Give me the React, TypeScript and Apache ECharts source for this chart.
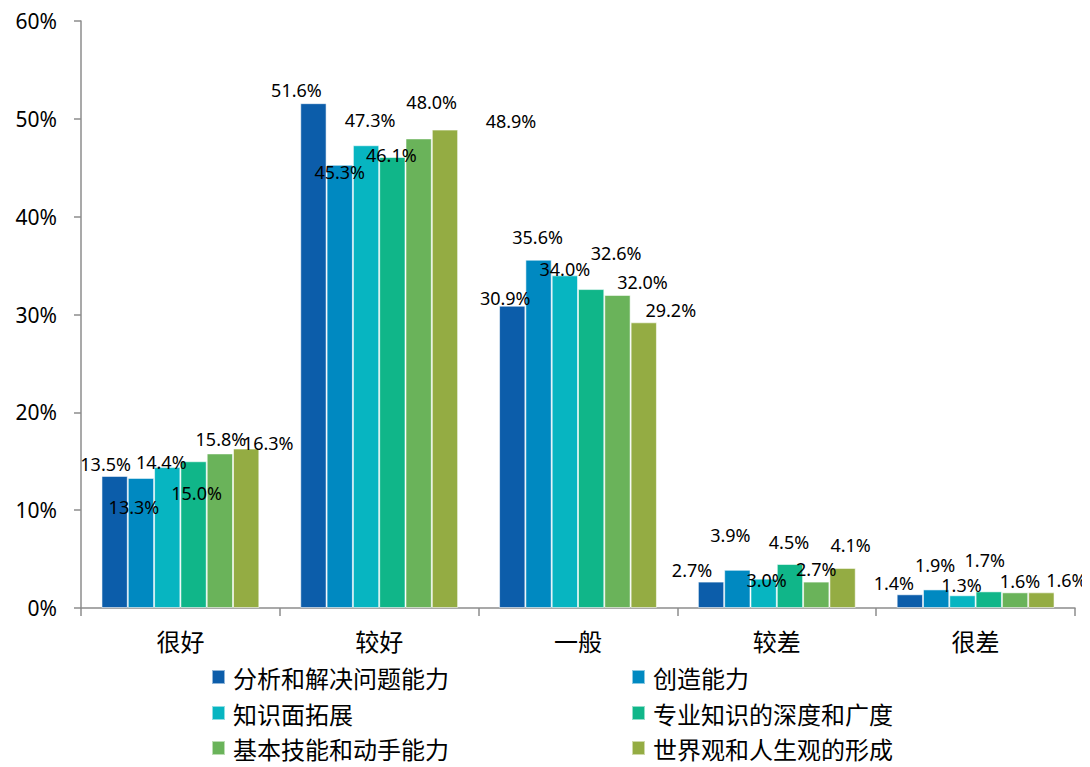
import React, { useEffect, useRef } from "react";
import * as echarts from "echarts";

const categories = ["很好", "较好", "一般", "较差", "很差"];
const seriesNames = [
  "分析和解决问题能力",
  "创造能力",
  "知识面拓展",
  "专业知识的深度和广度",
  "基本技能和动手能力",
  "世界观和人生观的形成",
];
const analysis = [13.5, 51.6, 30.9, 2.7, 1.4];
const creativity = [13.3, 45.3, 35.6, 3.9, 1.9];
const knowledgeBreadth = [14.4, 47.3, 34.0, 3.0, 1.3];
const professionalDepth = [15.0, 46.1, 32.6, 4.5, 1.7];
const basicSkills = [15.8, 48.0, 32.0, 2.7, 1.6];
const worldview = [16.3, 48.9, 29.2, 4.1, 1.6];
const yTicks = [0, 10, 20, 30, 40, 50, 60];

const seriesValues = [analysis, creativity, knowledgeBreadth, professionalDepth, basicSkills, worldview];
const colors = ["#0C5DAA", "#0089C1", "#07B5C1", "#10B689", "#6AB35A", "#94AC43"];

// label offsets [dx, dy] relative to default 'top' placement, per series per category
const labelOffsets = [
  [[-9, 2], [-17, 1], [-7, 6], [-19, 2], [-16, 3]],
  [[-7, 43], [0, 21], [-1, -9], [-7, -21], [-1, -10]],
  [[-6, 9], [4, -11], [0, 8], [3, 15], [-1, 4]],
  [[3, 46], [-1, 12], [25, -22], [-1, -8], [-4, -17]],
  [[1, 0], [13, -22], [25, 1], [0, 1], [5, 3]],
  [[22, 8], [66, 5], [27, 2], [8, -9], [25, 2]],
];

// legend slots: [left, top] in the chart div
const legendSlots = [
  [203, 656],
  [623, 656],
  [203, 692],
  [623, 692],
  [203, 727],
  [623, 727],
];

const CJK = '"Noto Sans CJK SC", "Noto Sans", sans-serif';
const NUM = '"Noto Sans", "Open Sans", sans-serif';

export default function App() {
  const ref = useRef<HTMLDivElement>(null);
  useEffect(() => {
    if (!ref.current) return;
    const chart = echarts.init(ref.current, undefined, { renderer: "svg" });
    const series = seriesValues.map((vals, si) => ({
      name: seriesNames[si],
      type: "bar",
      barGap: "0%",
      barCategoryGap: "20.6%",
      itemStyle: { color: colors[si], borderColor: "rgba(255,255,255,0.55)", borderWidth: 1 },
      data: vals.map((v, ci) => ({
        value: v,
        label: { offset: labelOffsets[si][ci] },
      })),
      label: {
        show: true,
        position: "top",
        distance: 5,
        formatter: (p: any) => p.value.toFixed(1) + "%",
        fontFamily: NUM,
        fontSize: 18,
        color: "#000",
      },
    }));
    const legends = seriesNames.map((name, i) => ({
      orient: "horizontal",
      left: legendSlots[i][0],
      top: legendSlots[i][1],
      padding: 0,
      itemWidth: 13,
      itemHeight: 14,
      icon: "rect",
      data: [name],
      textStyle: { fontFamily: CJK, fontSize: 24, lineHeight: 26, color: "#000", padding: [0, 0, 0, 3] },
    }));
    chart.setOption({
      animation: false,
      backgroundColor: "#fff",
      grid: { left: 73, right: 15, top: 13, bottom: 159, containLabel: false },
      xAxis: {
        type: "category",
        data: categories,
        axisLine: { lineStyle: { color: "#8c8c8c", width: 1.5 } },
        axisTick: { show: true, length: 8, lineStyle: { color: "#8c8c8c", width: 1.5 } },
        axisLabel: { color: "#000", fontFamily: CJK, fontSize: 24, margin: 20 },
      },
      yAxis: {
        type: "value",
        min: yTicks[0],
        max: yTicks[yTicks.length - 1],
        interval: 10,
        axisLine: { show: true, lineStyle: { color: "#8c8c8c", width: 1.5 } },
        axisTick: { show: true, length: 7, lineStyle: { color: "#8c8c8c", width: 1.5 } },
        splitLine: { show: false },
        axisLabel: { color: "#000", fontFamily: NUM, fontSize: 21, margin: 24, formatter: "{value}%" },
      },
      legend: legends,
      series,
    });
    return () => chart.dispose();
  }, []);
  return <div ref={ref} style={{ width: 1082, height: 759 }} />;
}
